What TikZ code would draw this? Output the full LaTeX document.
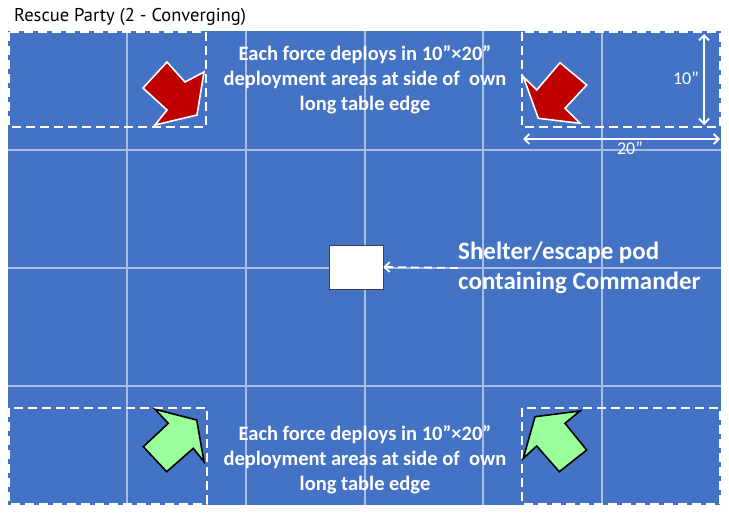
\documentclass[tikz,border=0pt]{standalone}
\usepackage{fontspec}
\setmainfont{Carlito}
\newfontfamily\titlefont{PT Sans}
\usetikzlibrary{arrows.meta}
\definecolor{board}{HTML}{4472C4}
\definecolor{gridc}{HTML}{A9BCE3}
\definecolor{redarr}{HTML}{C00000}
\definecolor{grnarr}{HTML}{99FF99}
\tikzset{
  gridline/.style={gridc, line width=2pt},
  deployzone/.style={white, line width=2.2pt, dash pattern=on 9pt off 5pt},
  redarrow/.style={fill=redarr, draw=white, line width=1.6pt, line join=miter},
  greenarrow/.style={fill=grnarr, draw=black, line width=1.6pt, line join=miter},
  deploytext/.style={text=white, align=center, font=\bfseries\fontsize{20.5}{25}\selectfont, inner sep=0pt},
  podtext/.style={text=white, align=left, font=\bfseries\fontsize{25}{30}\selectfont, inner sep=0pt, anchor=west},
  dimarrow/.style={white, line width=1.8pt, {Straight Barb[length=5pt,width=10pt]}-{Straight Barb[length=5pt,width=10pt]}},
  dimtext/.style={text=white, font=\fontsize{18}{20}\selectfont, inner sep=0pt},
}
\begin{document}
\begin{tikzpicture}[x=1pt,y=-1pt]
\useasboundingbox (0,0) rectangle (729,512);
\fill[white] (0,0) rectangle (729,512);
\fill[board] (8,31) rectangle (721,505);
% grid
\foreach \gx in {127,246,365,483,602} \draw[gridline] (\gx,31) -- (\gx,505);
\foreach \gy in {150,268,386} \draw[gridline] (8,\gy) -- (721,\gy);
% title
\node[anchor=west, inner sep=0pt, font=\titlefont\fontsize{18.5}{20}\selectfont] (title) at (14,17) {Rescue Party (2 - Converging)};
% deployment zones
\draw[deployzone] (9,32) rectangle (206,127);
\draw[deployzone] (522,32) rectangle (720,127);
\draw[deployzone] (9,408) rectangle (207,504);
\draw[deployzone] (522,408) rectangle (720,504);
% red arrows
\draw[redarrow] (167,62) -- (143,88) -- (167,110) -- (155,125) -- (197,115) -- (204,72) -- (185,82) -- cycle;
\draw[redarrow] (560,62.7) -- (586.7,85) -- (565,108.3) -- (580,123.3) -- (538.3,118.3) -- (523.3,76.7) -- (536.7,90) -- cycle;
% green arrows
\draw[greenarrow] (196.7,420) -- (155,409.3) -- (168.3,423.3) -- (143.3,446.7) -- (166.7,471.7) -- (193.3,448.3) -- (204,461.7) -- cycle;
\draw[greenarrow] (535,416.7) -- (580,411) -- (565,423.3) -- (586.7,450) -- (559.3,471.7) -- (536.7,446) -- (523.3,458.3) -- cycle;
% texts
\node[deploytext] (toptext) at (365,80) {Each force deploys in 10”×20”\\deployment areas at side of\ \ own\\long table edge};
\node[deploytext] (bottext) at (365,460) {Each force deploys in 10”×20”\\deployment areas at side of\ \ own\\long table edge};
% pod
\node[draw=black!75, fill=white, line width=0.8pt, minimum width=54pt, minimum height=44pt, inner sep=0pt] (pod) at (356,267) {};
\node[podtext] (podlabel) at (458,268) {Shelter/escape pod\\containing Commander};
\draw[white, line width=1.8pt, dash pattern=on 8pt off 5pt, -{Straight Barb[length=5pt,width=10pt]}] (podlabel.west) -- (pod.east);
% dimensions
\coordinate (vtop) at (704,34);
\coordinate (vbot) at (704,125);
\draw[dimarrow] (vtop) -- (vbot);
\node[dimtext] (ten) at (686,78) {10”};
\coordinate (hl) at (523,139);
\coordinate (hr) at (720,139);
\draw[dimarrow] (hl) -- (hr);
\node[dimtext] (twenty) at (630,148) {20”};
\end{tikzpicture}
\end{document}
